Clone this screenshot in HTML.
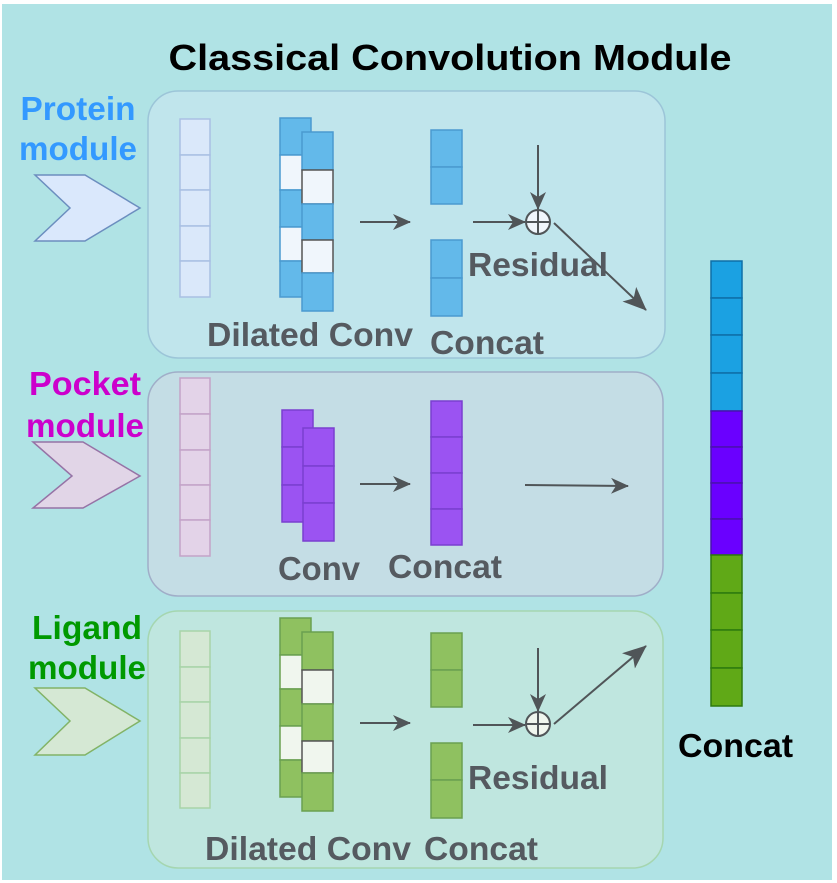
<!DOCTYPE html>
<html><head><meta charset="utf-8"><style>
html,body{margin:0;padding:0;background:#fff;}
svg{display:block;font-family:"Liberation Sans",sans-serif;font-weight:bold;}
</style></head><body>
<svg width="837" height="883" viewBox="0 0 837 883" xmlns="http://www.w3.org/2000/svg">
<defs>
<marker id="ah" markerWidth="18" markerHeight="16" refX="17" refY="8" orient="auto" markerUnits="userSpaceOnUse" viewBox="0 0 18 16">
<path d="M0,0 L18,8 L0,16 L5,8 Z" fill="#505558"/></marker>
<marker id="ah2" markerWidth="24" markerHeight="20" refX="23" refY="10" orient="auto" markerUnits="userSpaceOnUse" viewBox="0 0 24 20">
<path d="M0,0 L24,10 L0,20 L6,10 Z" fill="#505558"/></marker>
</defs>
<rect x="2" y="4" width="830" height="876" fill="#b0e3e5"/>
<text x="450" y="70" font-size="36" text-anchor="middle" textLength="563" lengthAdjust="spacingAndGlyphs" fill="#000">Classical Convolution Module</text>

<rect x="148" y="91" width="517" height="267" rx="30" fill="#c0e5ec" stroke="#9cc5d8" stroke-width="1.5"/>
<rect x="148" y="372" width="515" height="224" rx="30" fill="#c4dde5" stroke="#a0aec8" stroke-width="1.5"/>
<rect x="148" y="611" width="515" height="257" rx="30" fill="#bfe6df" stroke="#a5d6b0" stroke-width="1.5"/>

<g font-size="33" text-anchor="middle">
<text x="78" y="120" fill="#3399ff" textLength="115" lengthAdjust="spacingAndGlyphs">Protein</text>
<text x="78" y="160" fill="#3399ff" textLength="118" lengthAdjust="spacingAndGlyphs">module</text>
<text x="85" y="395" fill="#cc00cc" textLength="112" lengthAdjust="spacingAndGlyphs">Pocket</text>
<text x="85" y="437" fill="#cc00cc" textLength="118" lengthAdjust="spacingAndGlyphs">module</text>
<text x="87" y="639" fill="#009900" textLength="110" lengthAdjust="spacingAndGlyphs">Ligand</text>
<text x="87" y="679" fill="#009900" textLength="118" lengthAdjust="spacingAndGlyphs">module</text>
</g>
<polygon points="35,175 85,175 140,208 85,241 35,241 70,208" fill="#dae8fc" stroke="#6c8ebf" stroke-width="1.5"/>
<polygon points="33,442 83,442 140,476 83,508 33,508 72,476" fill="#e1d5e7" stroke="#9673a6" stroke-width="1.5"/>
<polygon points="35,688 85,688 140,721 85,755 35,755 70,721" fill="#d5e8d4" stroke="#82b366" stroke-width="1.5"/>

<g stroke="#a9c0e3" stroke-width="1.5" fill="#dae8fa">
<rect x="180" y="119" width="30" height="36"/><rect x="180" y="155" width="30" height="35"/><rect x="180" y="190" width="30" height="36"/><rect x="180" y="226" width="30" height="35"/><rect x="180" y="261" width="30" height="36"/>
</g>
<g stroke="#4a9ad0" stroke-width="1.5">
<rect x="280" y="118" width="31" height="37" fill="#63b9ea"/><rect x="280" y="155" width="31" height="35" fill="#f0f6fc"/><rect x="280" y="190" width="31" height="37" fill="#63b9ea"/><rect x="280" y="227" width="31" height="34" fill="#f0f6fc"/><rect x="280" y="261" width="31" height="36" fill="#63b9ea"/>
<rect x="302" y="132" width="31" height="38" fill="#63b9ea"/><rect x="302" y="170" width="31" height="34" fill="#f0f6fc" stroke="#555"/><rect x="302" y="204" width="31" height="36" fill="#63b9ea"/><rect x="302" y="240" width="31" height="33" fill="#f0f6fc" stroke="#555"/><rect x="302" y="273" width="31" height="38" fill="#63b9ea"/>
<rect x="431" y="130" width="31" height="37" fill="#63b9ea"/><rect x="431" y="167" width="31" height="37" fill="#63b9ea"/>
<rect x="431" y="240" width="31" height="38" fill="#63b9ea"/><rect x="431" y="278" width="31" height="38" fill="#63b9ea"/>
</g>
<g stroke="#505558" stroke-width="2" fill="none">
<line x1="360" y1="222" x2="410" y2="222" marker-end="url(#ah)"/>
<line x1="473" y1="222" x2="525" y2="222" marker-end="url(#ah)"/>
<line x1="538" y1="145" x2="538" y2="209" marker-end="url(#ah)"/>
<line x1="554" y1="223" x2="646" y2="310" marker-end="url(#ah2)"/>
<circle cx="538" cy="222" r="12" fill="#f0f6fc"/><line x1="526" y1="222" x2="550" y2="222"/><line x1="538" y1="210" x2="538" y2="234"/>
</g>
<g font-size="33" fill="#555a60">
<text x="468" y="276" textLength="140" lengthAdjust="spacingAndGlyphs">Residual</text>
<text x="207" y="346" textLength="206" lengthAdjust="spacingAndGlyphs">Dilated Conv</text>
<text x="430" y="354" textLength="114" lengthAdjust="spacingAndGlyphs">Concat</text>
</g>

<g stroke="#c3a3c8" stroke-width="1.5" fill="#e3d3e8">
<rect x="180" y="378" width="30" height="36"/><rect x="180" y="414" width="30" height="36"/><rect x="180" y="450" width="30" height="35"/><rect x="180" y="485" width="30" height="35"/><rect x="180" y="520" width="30" height="36"/>
</g>
<g stroke="#7a3fd0" stroke-width="1.5" fill="#9b53f2">
<rect x="282" y="410" width="31" height="37"/><rect x="282" y="447" width="31" height="38"/><rect x="282" y="485" width="31" height="37"/>
<rect x="303" y="428" width="31" height="38"/><rect x="303" y="466" width="31" height="37"/><rect x="303" y="503" width="31" height="38"/>
<rect x="431" y="401" width="31" height="36"/><rect x="431" y="437" width="31" height="36"/><rect x="431" y="473" width="31" height="36"/><rect x="431" y="509" width="31" height="36"/>
</g>
<g stroke="#505558" stroke-width="2">
<line x1="360" y1="484" x2="410" y2="484" marker-end="url(#ah)"/>
<line x1="525" y1="485" x2="628" y2="486" marker-end="url(#ah)"/>
</g>
<g font-size="33" fill="#555a60">
<text x="278" y="580" textLength="82" lengthAdjust="spacingAndGlyphs">Conv</text>
<text x="388" y="578" textLength="114" lengthAdjust="spacingAndGlyphs">Concat</text>
</g>

<g stroke="#a8d4a8" stroke-width="1.5" fill="#d5e8d4">
<rect x="180" y="631" width="30" height="36"/><rect x="180" y="667" width="30" height="35"/><rect x="180" y="702" width="30" height="36"/><rect x="180" y="738" width="30" height="35"/><rect x="180" y="773" width="30" height="35"/>
</g>
<g stroke="#6aa050" stroke-width="1.5">
<rect x="280" y="618" width="31" height="37" fill="#8fc160"/><rect x="280" y="655" width="31" height="34" fill="#f0f6ee"/><rect x="280" y="689" width="31" height="37" fill="#8fc160"/><rect x="280" y="726" width="31" height="34" fill="#f0f6ee"/><rect x="280" y="760" width="31" height="37" fill="#8fc160"/>
<rect x="302" y="632" width="31" height="38" fill="#8fc160"/><rect x="302" y="670" width="31" height="34" fill="#f0f6ee" stroke="#555"/><rect x="302" y="704" width="31" height="37" fill="#8fc160"/><rect x="302" y="741" width="31" height="32" fill="#f0f6ee" stroke="#555"/><rect x="302" y="773" width="31" height="38" fill="#8fc160"/>
<rect x="431" y="633" width="31" height="37" fill="#8fc160"/><rect x="431" y="670" width="31" height="37" fill="#8fc160"/>
<rect x="431" y="743" width="31" height="37" fill="#8fc160"/><rect x="431" y="780" width="31" height="38" fill="#8fc160"/>
</g>
<g stroke="#505558" stroke-width="2" fill="none">
<line x1="360" y1="723" x2="410" y2="723" marker-end="url(#ah)"/>
<line x1="473" y1="725" x2="525" y2="725" marker-end="url(#ah)"/>
<line x1="538" y1="648" x2="538" y2="711" marker-end="url(#ah)"/>
<line x1="554" y1="724" x2="646" y2="646" marker-end="url(#ah2)"/>
<circle cx="538" cy="724" r="12" fill="#f0f6ee"/><line x1="526" y1="724" x2="550" y2="724"/><line x1="538" y1="712" x2="538" y2="736"/>
</g>
<g font-size="33" fill="#555a60">
<text x="468" y="789" textLength="140" lengthAdjust="spacingAndGlyphs">Residual</text>
<text x="205" y="860" textLength="206" lengthAdjust="spacingAndGlyphs">Dilated Conv</text>
<text x="424" y="860" textLength="114" lengthAdjust="spacingAndGlyphs">Concat</text>
</g>

<g stroke-width="1.5">
<g fill="#1ba1e2" stroke="#0e6fa8">
<rect x="711" y="261" width="31" height="37"/><rect x="711" y="298" width="31" height="37"/><rect x="711" y="335" width="31" height="38"/><rect x="711" y="373" width="31" height="38"/>
</g>
<g fill="#6a00ff" stroke="#4a10b0">
<rect x="711" y="411" width="31" height="36"/><rect x="711" y="447" width="31" height="36"/><rect x="711" y="483" width="31" height="36"/><rect x="711" y="519" width="31" height="36"/>
</g>
<g fill="#60a917" stroke="#2d7a0e">
<rect x="711" y="555" width="31" height="38"/><rect x="711" y="593" width="31" height="37"/><rect x="711" y="630" width="31" height="38"/><rect x="711" y="668" width="31" height="38"/>
</g>
</g>
<text x="678" y="757" font-size="33" fill="#000" textLength="115" lengthAdjust="spacingAndGlyphs">Concat</text>
</svg>
</body></html>
